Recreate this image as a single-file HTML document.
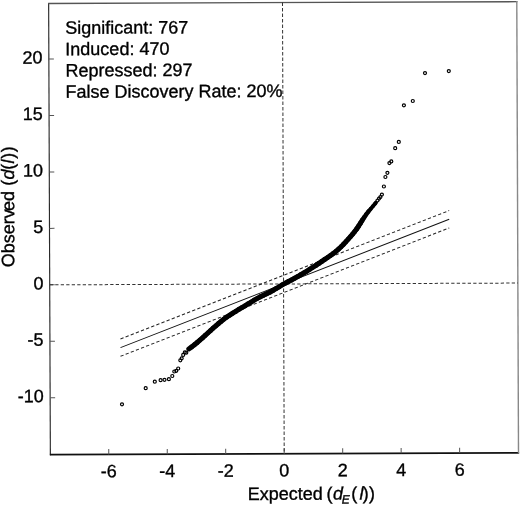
<!DOCTYPE html>
<html><head><meta charset="utf-8"><style>
html,body{margin:0;padding:0;background:#fff;width:520px;height:505px;overflow:hidden}
svg{display:block;will-change:transform}
.t{font-family:"Liberation Sans",sans-serif;font-size:18px;fill:#000;stroke:#000;stroke-width:0.35px}
</style></head><body>
<svg width="520" height="505" viewBox="0 0 520 505">
<g transform="rotate(-0.2177 283.6 228.2)">
<line x1="49.5" y1="2.0" x2="49.5" y2="454.35" stroke="#2a2a2a" stroke-width="1.15"/>
<line x1="49.0" y1="453.75" x2="518.25" y2="453.75" stroke="#111" stroke-width="1.6"/>
<line x1="49.0" y1="2.6" x2="518.25" y2="2.6" stroke="#555" stroke-width="1.3"/>
<line x1="517.65" y1="2.0" x2="517.65" y2="454.35" stroke="#888" stroke-width="1.4"/>
<line x1="107.91" y1="453.75" x2="107.91" y2="448.45" stroke="#555" stroke-width="1"/>
<text x="107.91" y="476.5" text-anchor="middle" class="t">-6</text>
<line x1="166.39" y1="453.75" x2="166.39" y2="448.45" stroke="#555" stroke-width="1"/>
<text x="166.39" y="476.5" text-anchor="middle" class="t">-4</text>
<line x1="224.87" y1="453.75" x2="224.87" y2="448.45" stroke="#555" stroke-width="1"/>
<text x="224.87" y="476.5" text-anchor="middle" class="t">-2</text>
<line x1="283.35" y1="453.75" x2="283.35" y2="448.45" stroke="#555" stroke-width="1"/>
<text x="283.35" y="476.5" text-anchor="middle" class="t">0</text>
<line x1="341.83" y1="453.75" x2="341.83" y2="448.45" stroke="#555" stroke-width="1"/>
<text x="341.83" y="476.5" text-anchor="middle" class="t">2</text>
<line x1="400.31" y1="453.75" x2="400.31" y2="448.45" stroke="#555" stroke-width="1"/>
<text x="400.31" y="476.5" text-anchor="middle" class="t">4</text>
<line x1="458.79" y1="453.75" x2="458.79" y2="448.45" stroke="#555" stroke-width="1"/>
<text x="458.79" y="476.5" text-anchor="middle" class="t">6</text>
<line x1="49.5" y1="396.85" x2="54.5" y2="396.85" stroke="#555" stroke-width="1"/>
<text x="43.2" y="401.35" text-anchor="end" class="t">-10</text>
<line x1="49.5" y1="340.40" x2="54.5" y2="340.40" stroke="#555" stroke-width="1"/>
<text x="43.2" y="344.90" text-anchor="end" class="t">-5</text>
<line x1="49.5" y1="283.95" x2="54.5" y2="283.95" stroke="#555" stroke-width="1"/>
<text x="43.2" y="288.45" text-anchor="end" class="t">0</text>
<line x1="49.5" y1="227.50" x2="54.5" y2="227.50" stroke="#555" stroke-width="1"/>
<text x="43.2" y="232.00" text-anchor="end" class="t">5</text>
<line x1="49.5" y1="171.05" x2="54.5" y2="171.05" stroke="#555" stroke-width="1"/>
<text x="43.2" y="175.55" text-anchor="end" class="t">10</text>
<line x1="49.5" y1="114.60" x2="54.5" y2="114.60" stroke="#555" stroke-width="1"/>
<text x="43.2" y="119.10" text-anchor="end" class="t">15</text>
<line x1="49.5" y1="58.15" x2="54.5" y2="58.15" stroke="#555" stroke-width="1"/>
<text x="43.2" y="62.65" text-anchor="end" class="t">20</text>
<line x1="283.35" y1="2.6" x2="283.35" y2="453.75" stroke="#333" stroke-width="1" stroke-dasharray="3.3 2.2" stroke-dashoffset="0"/>
<line x1="49.5" y1="283.95" x2="517.65" y2="283.95" stroke="#333" stroke-width="1" stroke-dasharray="3.3 2.2" stroke-dashoffset="0"/>
<line x1="120.04" y1="347.00" x2="449.23" y2="219.90" stroke="#111" stroke-width="1"/>
<line x1="120.04" y1="338.31" x2="449.23" y2="211.21" stroke="#222" stroke-width="1" stroke-dasharray="3.3 2.2"/>
<line x1="120.04" y1="355.70" x2="449.23" y2="228.60" stroke="#222" stroke-width="1" stroke-dasharray="3.3 2.2"/>
<g stroke="#000" stroke-linecap="round"><line x1="188.35" y1="348.55" x2="191.21" y2="346.52" stroke-width="5.00"/><line x1="191.21" y1="346.52" x2="194.01" y2="344.38" stroke-width="5.00"/><line x1="194.01" y1="344.38" x2="196.76" y2="342.15" stroke-width="5.00"/><line x1="196.76" y1="342.15" x2="199.47" y2="339.86" stroke-width="5.00"/><line x1="199.47" y1="339.86" x2="202.14" y2="337.51" stroke-width="5.00"/><line x1="202.14" y1="337.51" x2="204.80" y2="335.12" stroke-width="5.00"/><line x1="204.80" y1="335.12" x2="207.45" y2="332.71" stroke-width="5.00"/><line x1="207.45" y1="332.71" x2="210.10" y2="330.30" stroke-width="5.00"/><line x1="210.10" y1="330.30" x2="212.77" y2="327.91" stroke-width="5.00"/><line x1="212.77" y1="327.91" x2="215.45" y2="325.55" stroke-width="5.00"/><line x1="215.45" y1="325.55" x2="218.16" y2="323.24" stroke-width="5.00"/><line x1="218.16" y1="323.24" x2="220.91" y2="321.00" stroke-width="5.00"/><line x1="220.91" y1="321.00" x2="223.71" y2="318.84" stroke-width="5.00"/><line x1="223.71" y1="318.84" x2="226.56" y2="316.79" stroke-width="5.00"/><line x1="226.56" y1="316.79" x2="229.48" y2="314.83" stroke-width="5.00"/><line x1="229.48" y1="314.83" x2="232.45" y2="312.95" stroke-width="5.00"/><line x1="232.45" y1="312.95" x2="235.45" y2="311.11" stroke-width="5.00"/><line x1="235.45" y1="311.11" x2="238.50" y2="309.30" stroke-width="5.00"/><line x1="238.50" y1="309.30" x2="241.57" y2="307.49" stroke-width="5.00"/><line x1="241.57" y1="307.49" x2="244.65" y2="305.65" stroke-width="5.00"/><line x1="244.65" y1="305.65" x2="247.74" y2="303.77" stroke-width="5.00"/><line x1="247.74" y1="303.77" x2="250.83" y2="301.90" stroke-width="5.00"/><line x1="250.83" y1="301.90" x2="253.94" y2="300.05" stroke-width="5.00"/><line x1="253.94" y1="300.05" x2="257.04" y2="298.27" stroke-width="5.00"/><line x1="257.04" y1="298.27" x2="260.15" y2="296.62" stroke-width="5.00"/><line x1="260.15" y1="296.62" x2="263.26" y2="295.12" stroke-width="5.00"/><line x1="263.26" y1="295.12" x2="266.37" y2="293.71" stroke-width="5.00"/><line x1="266.37" y1="293.71" x2="269.49" y2="292.19" stroke-width="5.00"/><line x1="269.49" y1="292.19" x2="272.60" y2="290.47" stroke-width="5.00"/><line x1="272.60" y1="290.47" x2="275.72" y2="288.64" stroke-width="5.00"/><line x1="275.72" y1="288.64" x2="278.84" y2="286.76" stroke-width="5.00"/><line x1="278.84" y1="286.76" x2="281.95" y2="284.91" stroke-width="5.00"/><line x1="281.95" y1="284.91" x2="285.07" y2="283.17" stroke-width="5.00"/><line x1="285.07" y1="283.17" x2="288.18" y2="281.56" stroke-width="5.00"/><line x1="288.18" y1="281.56" x2="291.29" y2="279.97" stroke-width="5.00"/><line x1="291.29" y1="279.97" x2="294.40" y2="278.32" stroke-width="5.00"/><line x1="294.40" y1="278.32" x2="297.50" y2="276.60" stroke-width="5.00"/><line x1="297.50" y1="276.60" x2="300.59" y2="274.84" stroke-width="5.00"/><line x1="300.59" y1="274.84" x2="303.67" y2="273.04" stroke-width="5.00"/><line x1="303.67" y1="273.04" x2="306.74" y2="271.18" stroke-width="5.00"/><line x1="306.74" y1="271.18" x2="309.78" y2="269.29" stroke-width="5.00"/><line x1="309.78" y1="269.29" x2="312.80" y2="267.37" stroke-width="5.00"/><line x1="312.80" y1="267.37" x2="315.81" y2="265.42" stroke-width="5.00"/><line x1="315.81" y1="265.42" x2="318.78" y2="263.47" stroke-width="5.00"/><line x1="318.78" y1="263.47" x2="321.72" y2="261.53" stroke-width="5.00"/><line x1="321.72" y1="261.53" x2="324.63" y2="259.59" stroke-width="5.00"/><line x1="324.63" y1="259.59" x2="327.51" y2="257.67" stroke-width="5.00"/><line x1="327.51" y1="257.67" x2="330.34" y2="255.73" stroke-width="5.00"/><line x1="330.34" y1="255.73" x2="333.11" y2="253.72" stroke-width="5.00"/><line x1="333.11" y1="253.72" x2="335.83" y2="251.59" stroke-width="5.00"/><line x1="335.83" y1="251.59" x2="338.47" y2="249.31" stroke-width="5.00"/><line x1="338.47" y1="249.31" x2="341.03" y2="246.93" stroke-width="5.00"/><line x1="341.03" y1="246.93" x2="343.50" y2="244.46" stroke-width="5.00"/><line x1="343.50" y1="244.46" x2="345.89" y2="241.94" stroke-width="5.00"/><line x1="345.89" y1="241.94" x2="348.20" y2="239.39" stroke-width="5.00"/><line x1="348.20" y1="239.39" x2="350.44" y2="236.85" stroke-width="5.00"/><line x1="350.44" y1="236.85" x2="352.60" y2="234.34" stroke-width="5.00"/><line x1="352.60" y1="234.34" x2="354.68" y2="231.84" stroke-width="5.00"/><line x1="354.68" y1="231.84" x2="356.63" y2="229.27" stroke-width="5.00"/><line x1="356.63" y1="229.27" x2="358.50" y2="226.53" stroke-width="5.00"/><line x1="358.50" y1="226.53" x2="360.33" y2="223.66" stroke-width="5.00"/><line x1="360.33" y1="223.66" x2="362.20" y2="220.70" stroke-width="4.85"/><line x1="362.20" y1="220.70" x2="364.16" y2="217.72" stroke-width="4.70"/><line x1="364.16" y1="217.72" x2="366.23" y2="214.78" stroke-width="4.50"/><line x1="366.23" y1="214.78" x2="368.41" y2="211.96" stroke-width="4.30"/><line x1="368.41" y1="211.96" x2="370.67" y2="209.27" stroke-width="4.10"/><line x1="370.67" y1="209.27" x2="372.98" y2="206.62" stroke-width="3.90"/><line x1="372.98" y1="206.62" x2="375.30" y2="203.92" stroke-width="3.90"/><line x1="375.30" y1="203.92" x2="376.10" y2="202.95" stroke-width="3.90"/></g>
<circle cx="449.40" cy="71.73" r="1.5" fill="none" stroke="#000" stroke-width="1.2"/>
<circle cx="425.59" cy="73.64" r="1.5" fill="none" stroke="#000" stroke-width="1.2"/>
<circle cx="413.28" cy="101.49" r="1.5" fill="none" stroke="#000" stroke-width="1.2"/>
<circle cx="404.37" cy="105.76" r="1.5" fill="none" stroke="#000" stroke-width="1.2"/>
<circle cx="399.13" cy="142.34" r="1.5" fill="none" stroke="#000" stroke-width="1.2"/>
<circle cx="395.50" cy="148.62" r="1.5" fill="none" stroke="#000" stroke-width="1.2"/>
<circle cx="391.55" cy="161.81" r="1.5" fill="none" stroke="#000" stroke-width="1.2"/>
<circle cx="389.65" cy="163.50" r="1.5" fill="none" stroke="#000" stroke-width="1.2"/>
<circle cx="387.61" cy="173.19" r="1.5" fill="none" stroke="#000" stroke-width="1.2"/>
<circle cx="385.59" cy="177.39" r="1.5" fill="none" stroke="#000" stroke-width="1.2"/>
<circle cx="384.06" cy="186.88" r="1.5" fill="none" stroke="#000" stroke-width="1.2"/>
<circle cx="382.03" cy="194.97" r="1.5" fill="none" stroke="#000" stroke-width="1.2"/>
<circle cx="380.52" cy="197.47" r="1.5" fill="none" stroke="#000" stroke-width="1.2"/>
<circle cx="379.11" cy="198.96" r="1.5" fill="none" stroke="#000" stroke-width="1.2"/>
<circle cx="377.60" cy="200.86" r="1.5" fill="none" stroke="#000" stroke-width="1.2"/>
<circle cx="121.33" cy="403.68" r="1.5" fill="none" stroke="#000" stroke-width="1.2"/>
<circle cx="145.09" cy="387.67" r="1.5" fill="none" stroke="#000" stroke-width="1.2"/>
<circle cx="154.22" cy="381.21" r="1.5" fill="none" stroke="#000" stroke-width="1.2"/>
<circle cx="160.02" cy="379.73" r="1.5" fill="none" stroke="#000" stroke-width="1.2"/>
<circle cx="163.92" cy="379.35" r="1.5" fill="none" stroke="#000" stroke-width="1.2"/>
<circle cx="168.33" cy="378.76" r="1.5" fill="none" stroke="#000" stroke-width="1.2"/>
<circle cx="171.74" cy="375.58" r="1.5" fill="none" stroke="#000" stroke-width="1.2"/>
<circle cx="173.76" cy="371.08" r="1.5" fill="none" stroke="#000" stroke-width="1.2"/>
<circle cx="175.76" cy="370.39" r="1.5" fill="none" stroke="#000" stroke-width="1.2"/>
<circle cx="177.67" cy="368.10" r="1.5" fill="none" stroke="#000" stroke-width="1.2"/>
<circle cx="179.80" cy="359.91" r="1.5" fill="none" stroke="#000" stroke-width="1.2"/>
<circle cx="181.21" cy="357.91" r="1.5" fill="none" stroke="#000" stroke-width="1.2"/>
<circle cx="182.72" cy="354.52" r="1.5" fill="none" stroke="#000" stroke-width="1.2"/>
<circle cx="184.33" cy="352.02" r="1.5" fill="none" stroke="#000" stroke-width="1.2"/>
<circle cx="185.83" cy="352.33" r="1.5" fill="none" stroke="#000" stroke-width="1.2"/>
<text x="66.0" y="33.00" class="t">Significant: 767</text>
<text x="66.0" y="54.33" class="t">Induced: 470</text>
<text x="66.0" y="75.66" class="t">Repressed: 297</text>
<text x="66.0" y="96.99" class="t">False Discovery Rate: 20%</text>
<text y="499.8" class="t"><tspan x="246.6">Expected</tspan><tspan x="325.35">(</tspan><tspan x="331.85" font-style="italic">d</tspan><tspan x="340.75" font-style="italic" font-size="12" dy="4.0">E</tspan><tspan x="350.3" dy="-4.0">(</tspan><tspan x="358.4" font-style="italic">l</tspan><tspan x="361.75">)</tspan><tspan x="367.95">)</tspan></text>
<text transform="translate(14.2 266.2) rotate(-90)" class="t">Observ<tspan dx="-1.7">ed (</tspan><tspan dx="0.45" font-style="italic">d</tspan><tspan dx="-0.4">(</tspan><tspan dx="0.35" font-style="italic">l</tspan><tspan dx="0.7">)</tspan><tspan dx="0.6">)</tspan></text>
</g>
</svg>
</body></html>
